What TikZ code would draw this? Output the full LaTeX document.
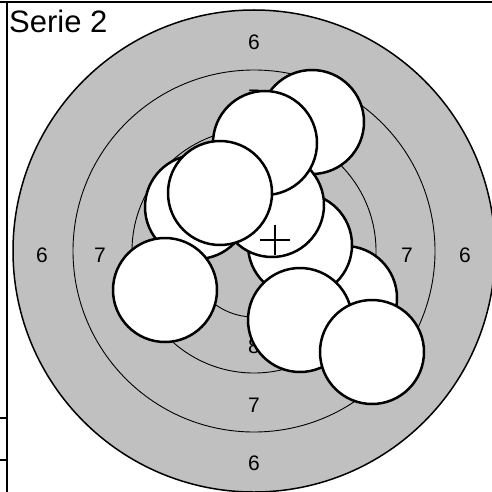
\documentclass[tikz,border=0pt]{standalone}
\usepackage{fontspec}
\setmainfont{Liberation Sans}
\usetikzlibrary{calc}
\definecolor{TargetGray}{HTML}{C0C0C0}
\newcommand{\RingNum}[3]{%
  \node[font=\fontsize{21}{21}\selectfont,inner sep=0pt] at (#1,#2) {#3};%
}
\tikzset{shot/.style={circle,draw=black,fill=white,line width=2.5pt,minimum size=104pt,inner sep=0pt}}

\begin{document}
\begin{tikzpicture}[x=1pt,y=-1pt]
\useasboundingbox (0,0) rectangle (492,492);
% target face
\coordinate (centre) at (254,251);
\draw[fill=TargetGray,line width=1.5pt] (centre) circle (241pt);
\foreach \r in {181,122,66} {
  \draw[line width=0.9pt] (centre) circle (\r pt);
}
\RingNum{42}{255}{6}
\RingNum{465}{255}{6}
\RingNum{254}{42}{6}
\RingNum{254}{463}{6}
\RingNum{100}{255}{7}
\RingNum{407}{255}{7}
\RingNum{254}{97}{7}
\RingNum{254}{405}{7}
\RingNum{158}{255}{8}
\RingNum{350}{255}{8}
\RingNum{254}{157}{8}
\RingNum{254}{346}{8}
% shots, back to front
\node[shot] (s1) at (312,122) {};
\node[shot] (s2) at (345,298) {};
\node[shot] (s3) at (300,245) {};
\node[shot] (s4) at (272,205) {};
\node[shot] (s5) at (265,143) {};
\node[shot] (s6) at (197,207) {};
\node[shot] (s7) at (220,193) {};
\node[shot] (s8) at (165,290) {};
\node[shot] (s9) at (300,320) {};
\node[shot] (s10) at (372,352) {};
% mean point of impact
\coordinate (mpi) at (275,240);
\draw[line width=1.3pt] ($(mpi)+(0,-15)$) -- ($(mpi)+(0,15)$);
\draw[line width=1.3pt] ($(mpi)+(-15,0)$) -- ($(mpi)+(15,0)$);
% frame
\draw[line width=2pt] (0,2) -- (492,2);
\draw[line width=1.5pt] (7,2) -- (7,492);
\draw[line width=1.2pt] (0,418) -- (7,418);
\draw[line width=1.2pt] (0,460) -- (7,460);
\node[anchor=base west,inner sep=0pt,font=\fontsize{31}{31}\selectfont] (title) at (9,33) {Serie 2};
\end{tikzpicture}
\end{document}
